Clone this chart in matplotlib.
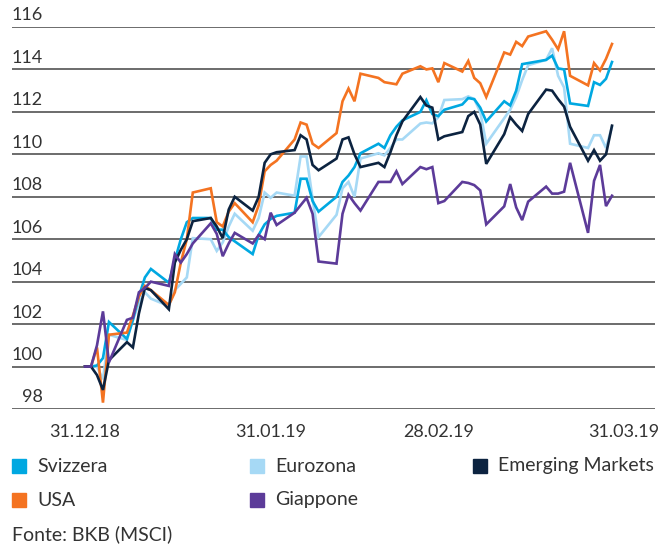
import matplotlib
matplotlib.use('Agg')
import matplotlib.pyplot as plt
import matplotlib.dates as mdates
import matplotlib.transforms as mtransforms
from matplotlib.patches import Rectangle
import pandas as pd

plt.rcParams['font.family'] = ['Lato', 'DejaVu Sans']

# trading days 31.12.2018 - 29.03.2019
dates = pd.bdate_range('2018-12-31', '2019-03-29')

svizzera = [100, 100, 100.05, 100.4, 102.1, 101.3, 102.2, 103.3, 104.2, 104.6,
            103.95, 105.0, 106.0, 106.8, 107.0, 107.0, 106.45, 106.45, 106.1, 105.9,
            105.3, 106.2, 106.7, 106.95, 107.1, 107.25, 108.85, 108.85, 107.8, 107.3,
            108.0, 108.7, 109.0, 109.4, 110.05, 110.5, 110.3, 110.9, 111.3, 111.6,
            112.0, 112.55, 111.9, 111.8, 112.1, 112.35, 112.65, 112.6, 112.2, 111.55,
            112.5, 112.3, 113.0, 114.25, 114.3, 114.45, 114.65, 114.05, 114.0, 112.4,
            112.28, 113.4, 113.27, 113.56, 114.35]
eurozona = [100, 100, 100.0, 99.4, 101.5, 101.25, 102.2, 103.0, 103.5, 103.2,
            102.85, 103.6, 103.9, 104.2, 106.05, 106.0, 105.45, 105.85, 106.6, 107.2,
            106.4, 107.0, 108.2, 107.95, 108.2, 108.05, 109.9, 109.9, 107.9, 106.1,
            107.15, 108.4, 108.7, 108.0, 109.8, 110.05, 109.95, 110.3, 110.7, 110.7,
            111.45, 111.5, 111.46, 111.75, 112.56, 112.6, 112.73, 112.6, 112.0, 110.5,
            111.7, 112.1, 112.7, 113.5, 114.2, 114.45, 115.0, 113.7, 113.15, 110.5,
            110.3, 110.9, 110.9, 110.3, 111.3]
emerging = [100, 100, 99.6, 98.9, 100.3, 101.15, 100.9, 102.5, 103.7, 103.6,
            102.7, 104.9, 105.5, 106.0, 106.85, 107.0, 106.6, 106.05, 107.4, 108.0,
            107.35, 108.0, 109.6, 110.0, 110.1, 110.2, 110.9, 110.7, 109.5, 109.25,
            109.8, 110.7, 110.8, 110.0, 109.4, 109.6, 109.4, 110.1, 110.9, 111.55,
            112.7, 112.3, 112.2, 110.7, 110.85, 111.05, 111.8, 112.0, 111.4, 109.55,
            110.95, 111.75, 111.4, 111.1, 111.9, 113.05, 113.0, 112.6, 112.25, 111.3,
            109.7, 110.2, 109.7, 110.0, 111.35]
usa = [100, 100, 100.9, 98.3, 101.5, 101.6, 102.4, 103.3, 103.8, 103.6,
       102.9, 103.5, 104.9, 106.0, 108.2, 108.4, 106.8, 106.6, 107.3, 107.7,
       106.8, 107.6, 109.2, 109.5, 109.7, 110.7, 111.5, 111.4, 110.5, 110.3,
       111.0, 112.5, 113.1, 112.5, 113.8, 113.6, 113.4, 113.35, 113.3, 113.8,
       114.15, 114.0, 114.05, 113.4, 114.3, 113.9, 114.4, 113.6, 113.35, 112.7,
       114.8, 114.7, 115.3, 115.1, 115.55, 115.8, 115.4, 114.95, 115.8, 113.7,
       113.25, 114.3, 113.95, 114.5, 115.2]
giappone = [100, 100, 101.0, 102.6, 100.2, 102.2, 102.3, 103.5, 103.7, 104.0,
            103.8, 105.3, 104.9, 105.3, 105.8, 106.75, 106.25, 105.2, 105.8, 106.3,
            105.8, 106.2, 106.0, 107.25, 106.67, 107.25, 107.6, 107.95, 107.2, 104.95,
            104.85, 107.2, 108.1, 107.7, 107.35, 108.7, 108.7, 108.7, 109.2, 108.6,
            109.4, 109.3, 109.4, 107.7, 107.8, 108.7, 108.65, 108.55, 108.3, 106.7,
            107.55, 108.6, 107.5, 106.9, 107.77, 108.48, 108.15, 108.15, 108.24, 109.6,
            106.3, 108.75, 109.5, 107.56, 108.05]

names = ['Svizzera', 'Eurozona', 'Emerging Markets', 'USA', 'Giappone']
colors = ['#00a8e1', '#a6d9f5', '#0c2340', '#f47321', '#5c3b99']
series = [svizzera, eurozona, emerging, usa, giappone]

y_ticks = [98, 100, 102, 104, 106, 108, 110, 112, 114, 116]
x_ticks = ['2018-12-31', '2019-01-31', '2019-02-28', '2019-03-31']
x_labels = ['31.12.18', '31.01.19', '28.02.19', '31.03.19']

W, H = 668, 546
fig = plt.figure(figsize=(W / 100, H / 100), dpi=100)
ax = fig.add_axes([12 / W, 1 - 409 / H, (655 - 12) / W, (409 - 27) / H])

for name, col, s in zip(names, colors, series):
    ax.plot(dates, s, color=col, lw=1.9, label=name, clip_on=False,
            solid_joinstyle='miter')
# draw order: eurozona under, giappone on top
for line, z in zip(ax.lines, [3, 2, 5, 4, 6]):
    line.set_zorder(z)

d0 = mdates.date2num(pd.Timestamp('2018-12-31'))
d1 = mdates.date2num(pd.Timestamp('2019-03-29'))
ppd = (612 - 85) / (d1 - d0)
ax.set_xlim(d0 - (85 - 12) / ppd, d1 + (655 - 612) / ppd)
ax.set_ylim(98, 116)

for v in y_ticks:
    ax.axhline(v, color='#444444', lw=1.1, zorder=1)

ax.set_xticks([])
ax.set_yticks([])
for sp in ax.spines.values():
    sp.set_visible(False)

txt_col = '#333333'
fs = 13
fs_leg = 14
tr_y = mtransforms.blended_transform_factory(fig.transFigure, ax.transData)
for v in y_ticks:
    ax.text(43 / W, v + 0.17, str(v), transform=tr_y, ha='right', va='bottom',
            fontsize=fs, color=txt_col)

tr_x = mtransforms.blended_transform_factory(ax.transData, fig.transFigure)
for d, lab in zip(x_ticks, x_labels):
    ax.text(mdates.date2num(pd.Timestamp(d)), 1 - 432 / H, lab, transform=tr_x,
            ha='center', va='center', fontsize=fs, color=txt_col)

# legend
leg_pos = [(12, 466), (250, 466), (473, 466), (12, 500), (250, 500)]
for (lx, ly), name, col in zip(leg_pos, names, colors):
    fig.patches.append(Rectangle((lx / W, 1 - (ly + 7) / H), 14 / W, 14 / H,
                                 transform=fig.transFigure, color=col))
    fig.text((lx + 25) / W, 1 - ly / H, name, ha='left', va='center',
             fontsize=fs_leg, color=txt_col)

fig.text(12 / W, 1 - 534 / H, 'Fonte: BKB (MSCI)', ha='left', va='center',
         fontsize=fs_leg, color=txt_col)

fig.savefig('out.png', dpi=100)
